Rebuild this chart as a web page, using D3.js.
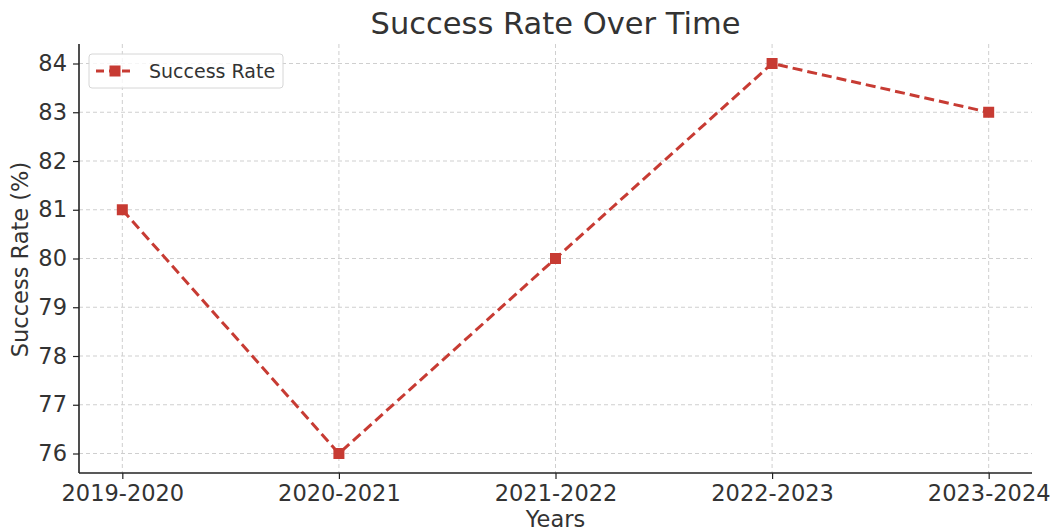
<!DOCTYPE html>
<html>
<head>
<meta charset="utf-8">
<script src="https://cdn.jsdelivr.net/npm/d3@7"></script>
<style>
  body { margin: 0; background: #fff; }
  text { font-family: "DejaVu Sans", sans-serif; fill: #333; }
</style>
</head>
<body>
<svg id="chart" width="1051" height="531"></svg>
<script>
var years = ["2019-2020", "2020-2021", "2021-2022", "2022-2023", "2023-2024"];
var rates = [81, 76, 80, 84, 83];
var yTicks = [76, 77, 78, 79, 80, 81, 82, 83, 84];

var LINE_COLOR = "#c73b33";
var svg = d3.select("#chart");
var margin = { left: 79, right: 19, top: 44, bottom: 58 };
var width = 1051 - margin.left - margin.right;
var height = 531 - margin.top - margin.bottom;

var g = svg.append("g").attr("transform", "translate(" + margin.left + "," + margin.top + ")");

// 5% padding like matplotlib
var x = d3.scalePoint().domain(years).range([width * 0.2 / 4.4, width - width * 0.2 / 4.4]);
var yMin = d3.min(rates), yMax = d3.max(rates);
var pad = (yMax - yMin) * 0.05;
var y = d3.scaleLinear().domain([yMin - pad, yMax + pad]).range([height, 0]);

// grid
g.selectAll(".hgrid").data(yTicks).enter().append("line")
  .attr("x1", 0).attr("x2", width)
  .attr("y1", function(d) { return y(d); }).attr("y2", function(d) { return y(d); })
  .attr("stroke", "#cfcfcf").attr("stroke-dasharray", "4,3").attr("stroke-width", 1);
g.selectAll(".vgrid").data(years).enter().append("line")
  .attr("y1", 0).attr("y2", height)
  .attr("x1", function(d) { return x(d); }).attr("x2", function(d) { return x(d); })
  .attr("stroke", "#cfcfcf").attr("stroke-dasharray", "4,3").attr("stroke-width", 1);

// axes
var xAxis = g.append("g").attr("transform", "translate(0," + height + ")")
  .call(d3.axisBottom(x).tickSize(6).tickPadding(6));
var yAxis = g.append("g")
  .call(d3.axisLeft(y).tickValues(yTicks).tickSize(6).tickPadding(6));
[xAxis, yAxis].forEach(function(a) {
  a.select(".domain").attr("stroke", "#222").attr("stroke-width", 1.6);
  a.selectAll(".tick line").attr("stroke", "#222").attr("stroke-width", 1.2);
  a.selectAll(".tick text").attr("font-size", 22.5).attr("fill", "#222")
    .style("font-family", "DejaVu Sans, sans-serif");
});
xAxis.select(".domain").attr("d", "M0,0H" + width);
yAxis.select(".domain").attr("d", "M0,0V" + height);

// line
var line = d3.line()
  .x(function(d, i) { return x(years[i]); })
  .y(function(d) { return y(d); });
g.append("path").datum(rates)
  .attr("d", line)
  .attr("fill", "none")
  .attr("stroke", LINE_COLOR)
  .attr("stroke-width", 3)
  .attr("stroke-dasharray", "10,5");

g.selectAll(".pt").data(rates).enter().append("rect")
  .attr("x", function(d, i) { return x(years[i]) - 5.5; })
  .attr("y", function(d) { return y(d) - 5.5; })
  .attr("width", 11).attr("height", 11)
  .attr("fill", LINE_COLOR);

// title and labels
svg.append("text").attr("x", margin.left + width / 2).attr("y", 34)
  .attr("text-anchor", "middle").attr("font-size", 30.5).text("Success Rate Over Time");
svg.append("text").attr("x", margin.left + width / 2).attr("y", 527)
  .attr("text-anchor", "middle").attr("font-size", 22.5).text("Years");
svg.append("text")
  .attr("transform", "translate(28," + (margin.top + height / 2 + 1) + ") rotate(-90)")
  .attr("text-anchor", "middle").attr("font-size", 22.5).text("Success Rate (%)");

// legend
var lg = svg.append("g").attr("transform", "translate(89,54)");
lg.append("rect").attr("width", 194).attr("height", 34).attr("rx", 3)
  .attr("fill", "#fff").attr("fill-opacity", 0.8)
  .attr("stroke", "#d6d6d6").attr("stroke-width", 1);
lg.append("line").attr("x1", 7).attr("x2", 45).attr("y1", 17).attr("y2", 17)
  .attr("stroke", LINE_COLOR).attr("stroke-width", 3).attr("stroke-dasharray", "8,5");
lg.append("rect").attr("x", 20.5).attr("y", 11.5).attr("width", 11).attr("height", 11).attr("fill", LINE_COLOR);
lg.append("text").attr("x", 60).attr("y", 24).attr("font-size", 19).text("Success Rate");
</script>
</body>
</html>
